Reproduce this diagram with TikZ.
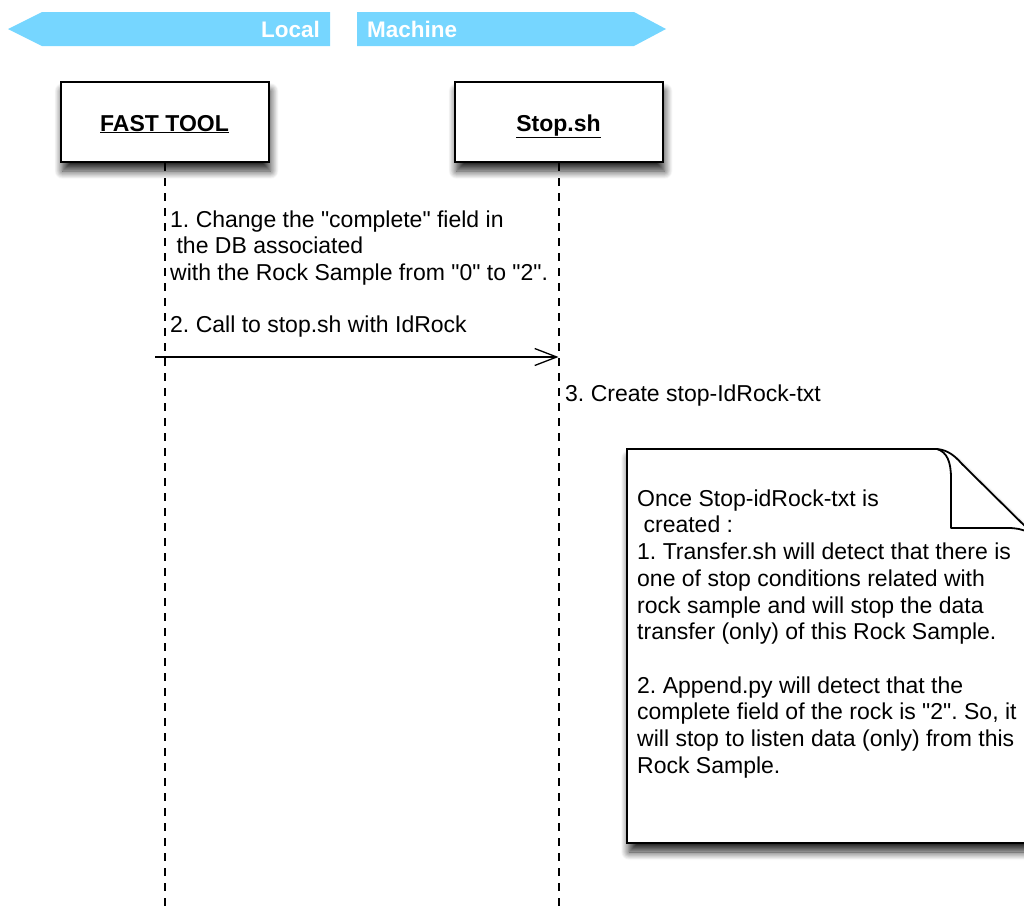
\documentclass[tikz,border=0pt]{standalone}
\usepackage{fontspec}
\setmainfont{Liberation Sans}
\usetikzlibrary{arrows.meta,shadows.blur}
\definecolor{banner}{RGB}{118,214,255}
\frenchspacing
\newcommand{\qq}{\textquotedbl}
\begin{document}
\begin{tikzpicture}[x=1pt,y=-1pt,
  actor/.style={draw=black, line width=2pt, fill=white, minimum width=208pt, minimum height=80pt,
    font=\fontsize{23}{26}\selectfont\bfseries, text height=18pt, text depth=0pt,
    blur shadow={shadow xshift=2pt, shadow yshift=-9pt, shadow blur radius=8pt, shadow blur steps=14, shadow opacity=85}},
  lifeline/.style={line width=2pt, dash pattern=on 7.5pt off 7.5pt},
  msg/.style={font=\fontsize{23}{26.7}\selectfont, align=left, inner sep=0pt, anchor=north west},
  bannertext/.style={font=\fontsize{22.5}{26}\selectfont\bfseries, text=white, inner sep=0pt},
  call/.style={line width=1.3pt, -{Straight Barb[length=22pt,width=17pt,line width=1.3pt]}}
]
\useasboundingbox (0,0) rectangle (1024,908);
\clip (0,0) rectangle (1024,908);

% banner
\fill[banner] (8,29) -- (42,12) -- (330,12) -- (330,46) -- (42,46) -- cycle;
\fill[banner] (357,12) -- (634,12) -- (666,29) -- (634,46) -- (357,46) -- cycle;
\node[bannertext, anchor=base east] (local) at (320,37) {Local};
\node[bannertext, anchor=base west] (machine) at (367,37) {Machine};

% actors
\node[actor] (ft) at (164.5,122) {\underline{FAST TOOL}};
\node[actor] (ss) at (558.5,122) {\underline{Stop.sh}};

% lifelines
\coordinate (ftend) at (164.5,908);
\coordinate (ssend) at (558.5,908);
\draw[lifeline] (ft.south) -- (ftend);
\draw[lifeline] (ss.south) -- (ssend);

% messages
\node[msg] (m1) at (170,208.3) {\strut 1. Change the \qq complete\qq{} field in\\
\mbox{}\ the DB associated\\
with the Rock Sample from \qq 0\qq{} to \qq 2\qq .};
\node[msg] (m2) at (170,313.3) {\strut 2. Call to stop.sh with IdRock};
\coordinate (a0) at (155,357);
\coordinate (a1) at (ss.south |- a0);
\draw[call] (a0) -- (a1);
\node[msg] (m3) at (565,382.3) {\strut 3. Create stop-IdRock-txt};

% note
\path[draw=black, line width=1.8pt, fill=white,
  blur shadow={shadow xshift=2pt, shadow yshift=-9pt, shadow blur radius=8pt, shadow blur steps=14, shadow opacity=85}]
  (627,449) -- (937,449) .. controls (948,450) and (955,456) .. (962,464)
  -- (1040,541) -- (1040,843) -- (627,843) -- cycle;
\draw[line width=1.8pt, line join=round]
  (937,449) .. controls (947,452) and (951,462) .. (951,478) -- (951,528)
  -- (1008,528) .. controls (1016,528) and (1022,529) .. (1030,533);
\node[msg] (note) at (637,487.3) {\strut Once Stop-idRock-txt is\\
\mbox{}\ created :\\
1. Transfer.sh will detect that there is\\
one of stop conditions related with\\
rock sample and will stop the data\\
transfer (only) of this Rock Sample.\\
\mbox{}\\
2. Append.py will detect that the\\
complete field of the rock is \qq 2\qq . So, it\\
will stop to listen data (only) from this\\
Rock Sample.};
\end{tikzpicture}
\end{document}
